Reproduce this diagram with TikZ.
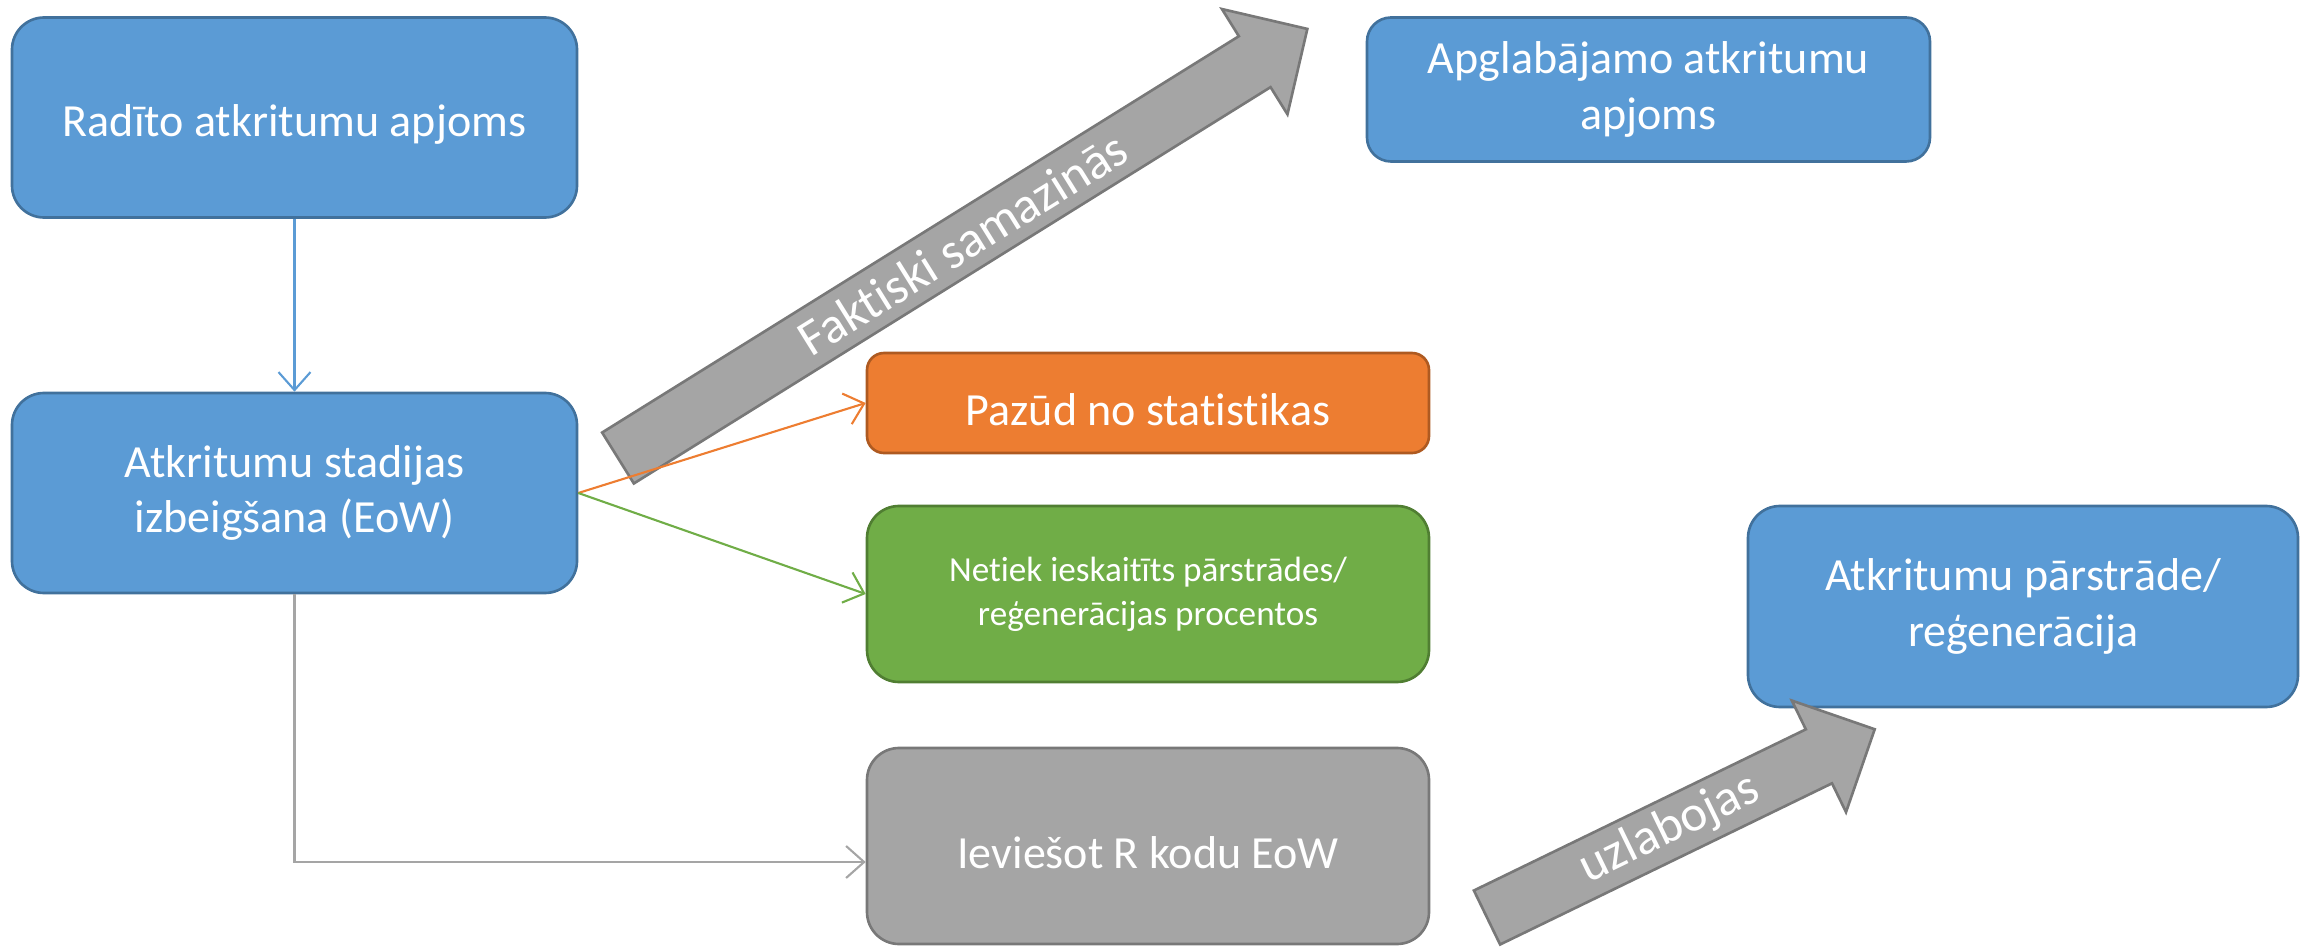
\documentclass[tikz,border=0pt]{standalone}
\usepackage{fontspec}
\setmainfont[Ligatures=NoCommon]{Carlito}
\usepackage{tikz}
\usetikzlibrary{arrows.meta}
\definecolor{boxblue}{HTML}{5B9BD5}
\definecolor{edgeblue}{HTML}{41719C}
\definecolor{boxorange}{HTML}{ED7D31}
\definecolor{edgeorange}{HTML}{AE5A21}
\definecolor{boxgreen}{HTML}{70AD47}
\definecolor{edgegreen}{HTML}{507E32}
\definecolor{boxgray}{HTML}{A5A5A5}
\definecolor{edgegray}{HTML}{787878}

\begin{document}
\begin{tikzpicture}[
  box/.style={draw, line width=0.75pt, rounded corners=0.32cm, text=white, align=center, inner sep=0pt,
    font=\fontsize{13.1}{15.9}\selectfont, execute at begin node={\rule{0pt}{1em}}},
  bluebox/.style={box, fill=boxblue, draw=edgeblue},
  orangebox/.style={box, fill=boxorange, draw=edgeorange, rounded corners=0.17cm},
  greenbox/.style={box, fill=boxgreen, draw=edgegreen, font=\fontsize{10}{12.5}\selectfont},
  graybox/.style={box, fill=boxgray, draw=edgegray},
  link/.style={line width=0.6pt, -{Straight Barb[length=1.8mm,width=3.2mm]}},
  bigarrow/.style={draw=edgegray, fill=boxgray, line width=0.75pt, line join=miter},
  arrowtext/.style={text=white, font=\fontsize{14.5}{17}\selectfont}
]
\useasboundingbox (0,0) rectangle (23,9.46);

\node[bluebox, minimum width=5.65cm, minimum height=2cm] (generated) at (2.945,8.285) {Radīto atkritumu apjoms};
\node[bluebox, minimum width=5.65cm, minimum height=2cm] (eow) at (2.945,4.53) {Atkritumu stadijas\\izbeigšana (EoW)};
\node[bluebox, minimum width=5.63cm, minimum height=1.44cm, rounded corners=0.24cm] (landfill) at (16.485,8.565) {Apglabājamo atkritumu\\apjoms};

\node[orangebox, minimum width=5.62cm, minimum height=1cm] (lost) at (11.48,5.43) {Pazūd no statistikas};
\node[greenbox, minimum width=5.62cm, minimum height=1.76cm] (notcounted) at (11.48,3.52) {Netiek ieskaitīts pārstrādes/\\reģenerācijas procentos};
\node[graybox, minimum width=5.62cm, minimum height=1.96cm] (rcode) at (11.48,1.0) {Ieviešot R kodu EoW};

\node[bluebox, minimum width=5.5cm, minimum height=2.01cm] (recycling) at (20.23,3.395) {Atkritumu pārstrāde/\\reģenerācija};

% block arrows
\foreach \n/\x/\y/\a/\l/\p/\t in {fakt/6.18/4.88/31.9/8.12/4.06/Faktiski samazinās, uzl/14.87/0.285/25.9/4.31/2.03/uzlabojas}
{
  \begin{scope}[shift={(\x,\y)}, rotate=\a]
    \draw[bigarrow] (0,-0.3) -- (\l-0.62,-0.3) -- (\l-0.62,-0.62) -- (\l,0) -- (\l-0.62,0.62) -- (\l-0.62,0.3) -- (0,0.3) -- cycle;
    \node[arrowtext, rotate=\a] (\n) at (\p,0) {\t};
  \end{scope}
}

\draw[link, boxblue] (generated.south) -- (eow.north);
\draw[link, boxorange] (eow.east) -- (lost.west);
\draw[link, boxgreen] (eow.east) -- (notcounted.west);
\draw[link, boxgray] (eow.south) |- ([yshift=-0.16cm]rcode.west);
\end{tikzpicture}
\end{document}
